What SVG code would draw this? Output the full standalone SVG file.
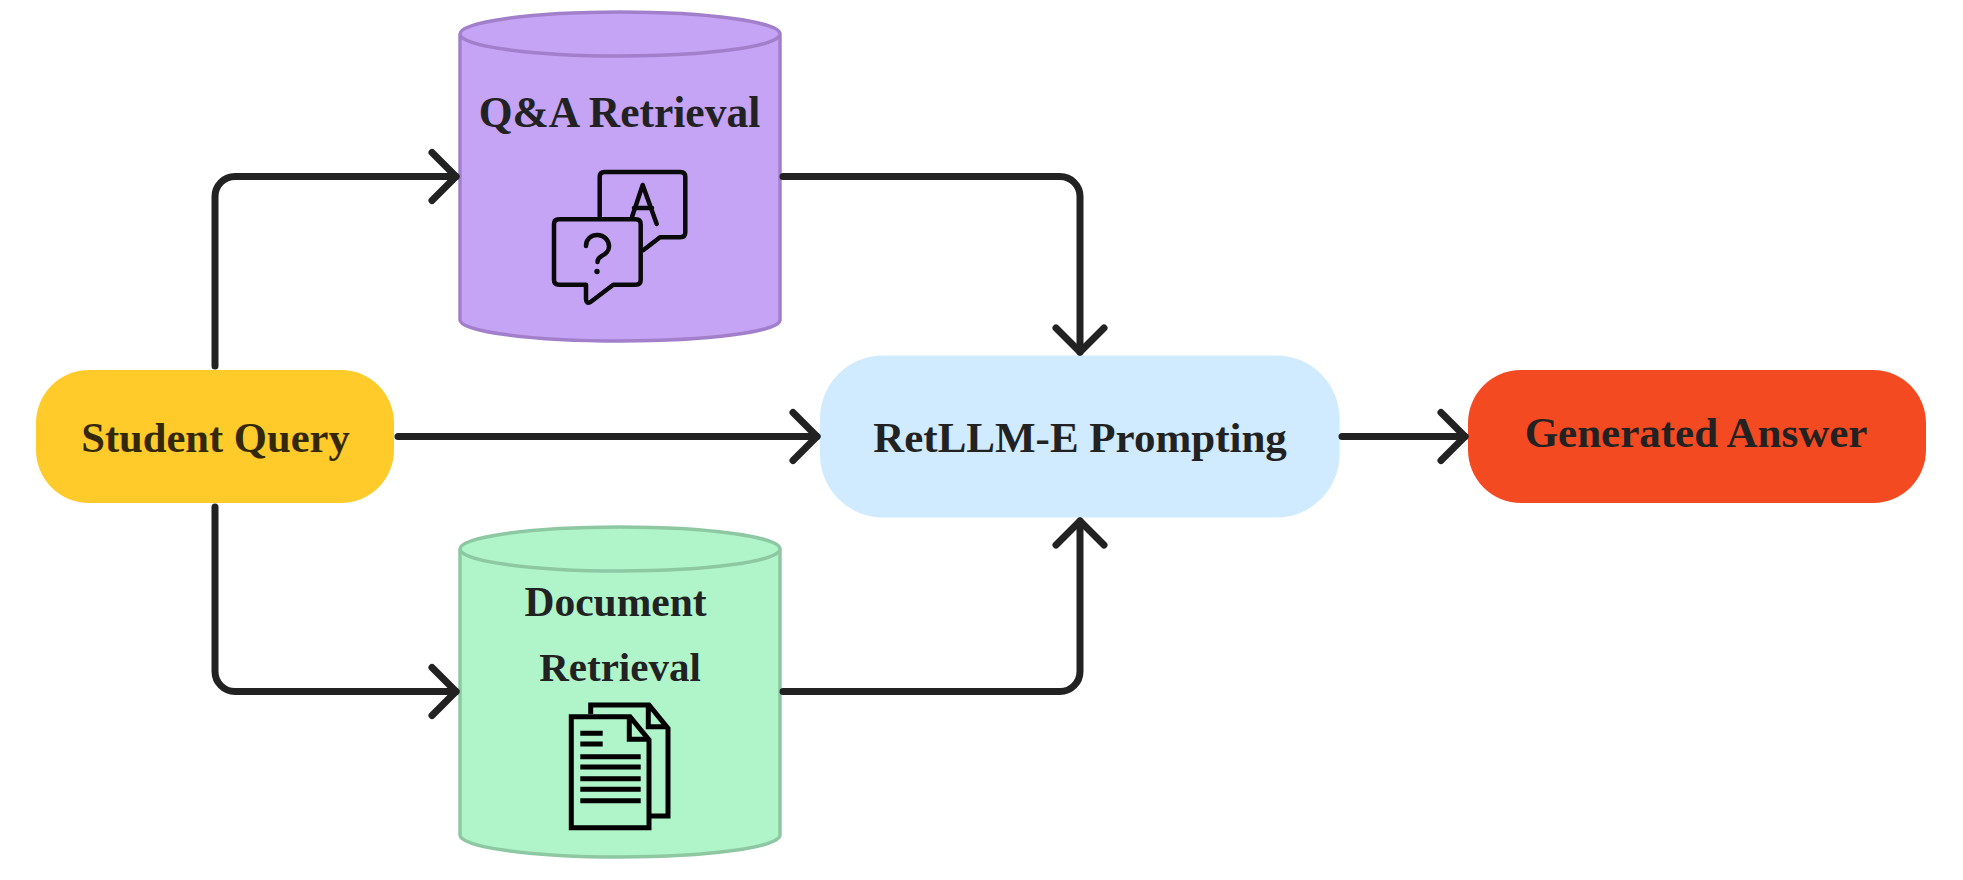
<svg xmlns="http://www.w3.org/2000/svg" width="1963" height="880" viewBox="0 0 1963 880">
<style>
.t{font-family:"Liberation Serif","Times New Roman",serif;font-weight:700;font-size:43px;text-anchor:middle;fill:#222}
.c{fill:none;stroke:#222;stroke-width:7;stroke-linecap:round;stroke-linejoin:round}
.qa{fill:#C5A3F5;stroke:#A27FCB;stroke-width:3.5}
.doc{fill:#AFF5C9;stroke:#8DC8A3;stroke-width:3.5}
.ic{fill:none;stroke:#0a0a0a;stroke-width:4.5;stroke-linecap:round;stroke-linejoin:round}
.id{fill:none;stroke:#000;stroke-width:5;stroke-linejoin:miter}
</style>
<defs>
<marker id="arrow" markerUnits="userSpaceOnUse" markerWidth="70" markerHeight="70" refX="35" refY="35" viewBox="0 0 70 70" orient="auto">
<path d="M11,11 L35,35 L11,59" fill="none" stroke="#222" stroke-width="7" stroke-linecap="round" stroke-linejoin="round"/>
</marker>
</defs>
<rect width="1963" height="880" fill="#fff"/>
<g id="node-student-query">
<rect x="36" y="370" width="358" height="133" rx="53" fill="#FFCB2B"/>
<text class="t" x="215.500" y="451.500" style="fill:#332807;font-size:42.600px">Student Query</text>
</g>
<g id="node-qa-retrieval">
<path class="qa" d="M460,34 V320 A160,21 0 0 0 780,320 V34 A160,22 0 0 0 460,34 A160,22 0 0 0 780,34"/>
<text class="t" x="619.500" y="127" style="font-size:43.500px">Q&amp;A Retrieval</text>
<path class="ic" d="M599.700,217 V177 Q599.700,172 604.700,172 H680.300 Q685.300,172 685.300,177 V232.300 Q685.300,237.300 680.300,237.300 H660 L643.500,250"/>
<path class="ic" d="M632,217 L642.700,185 L656.700,224 M634,208 H652"/>
<path class="ic" d="M559,219.300 H635.700 Q640.700,219.300 640.700,224.300 V279.700 Q640.700,284.700 635.700,284.700 H613.300 L590.500,302 Q586,304.500 586,299 V284.700 H559 Q554,284.700 554,279.700 V224.300 Q554,219.300 559,219.300 Z"/>
<path class="ic" d="M586,246 C586,239 591,235 597.500,235 C604,235 609,240 609,246.500 C609,252 605,254 601,256.500 Q597.500,258.500 597.500,262"/>
<circle cx="597" cy="271.500" r="2.700" fill="#0a0a0a"/>
</g>
<g id="node-document-retrieval">
<path class="doc" d="M460,549 V835 A160,22 0 0 0 780,835 V549 A160,22 0 0 0 460,549 A160,22 0 0 0 780,549"/>
<text class="t" x="615.500" y="616" style="font-size:41.500px">Document</text>
<text class="t" x="620" y="681" style="font-size:41px">Retrieval</text>
<path class="id" d="M590.700,714 V705 H649 L668,728.300 V816 H650 M648.300,705 V726.700 H668"/>
<path class="id" d="M571.300,716.700 H630 L649,740 V827.700 H571.300 Z M629.300,716.700 V739.300 H649"/>
<path class="id" d="M580.300,733.300 H602.700 M580.300,744 H602.700 M580.300,756.700 H640.700 M580.300,767 H640.700 M580.300,778.700 H640.700 M580.300,789.300 H640.700 M580.300,800.700 H640.700"/>
</g>
<g id="node-retllm-prompting">
<rect x="820" y="355.500" width="519.500" height="162" rx="63" fill="#D0EBFF"/>
<text class="t" x="1080" y="451.500">RetLLM-E Prompting</text>
</g>
<g id="node-generated-answer">
<rect x="1468" y="370" width="458" height="133" rx="53" fill="#F44A22"/>
<text class="t" x="1696" y="447">Generated Answer</text>
</g>
<g id="connectors">
<path class="c" marker-end="url(#arrow)" d="M215,366 V196.500 A20,20 0 0 1 235,176.500 H456"/>
<path class="c" marker-end="url(#arrow)" d="M215,507 V671.500 A20,20 0 0 0 235,691.500 H456"/>
<path class="c" marker-end="url(#arrow)" d="M398,436.500 H817"/>
<path class="c" marker-end="url(#arrow)" d="M783,176.500 H1060 A20,20 0 0 1 1080,196.500 V352"/>
<path class="c" marker-end="url(#arrow)" d="M783,691.500 H1060 A20,20 0 0 0 1080,671.500 V521"/>
<path class="c" marker-end="url(#arrow)" d="M1342,436.500 H1465"/>
</g>
</svg>
